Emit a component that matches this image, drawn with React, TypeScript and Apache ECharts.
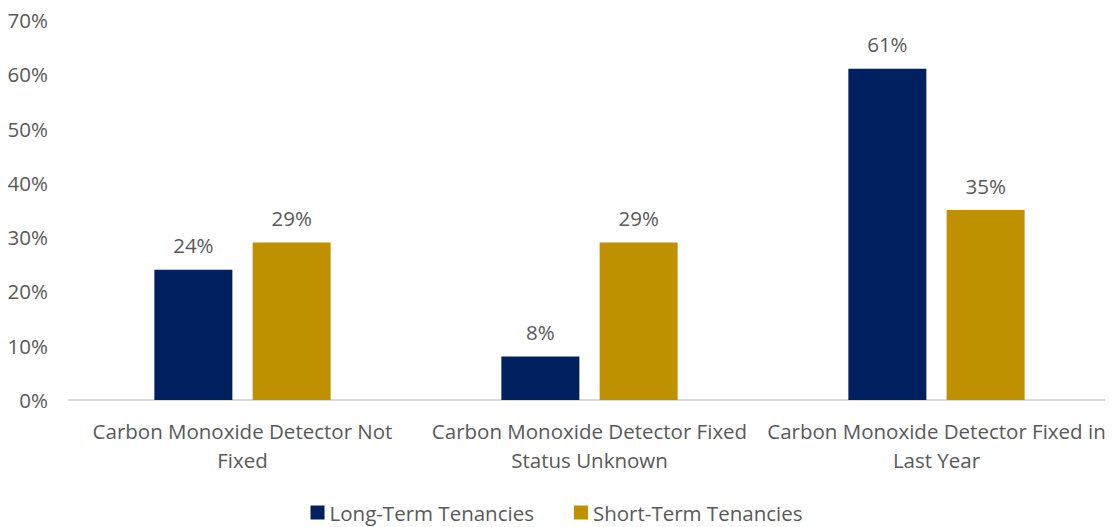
import React, { useEffect, useRef } from "react";
import * as echarts from "echarts";

const categories = [
  "Carbon Monoxide Detector Not\nFixed",
  "Carbon Monoxide Detector Fixed\nStatus Unknown",
  "Carbon Monoxide Detector Fixed in\nLast Year",
];
const longTerm = [24, 8, 61];
const shortTerm = [29, 29, 35];
const seriesNames = ["Long-Term Tenancies", "Short-Term Tenancies"];
const yTicks = { min: 0, max: 70, interval: 10 };

const FONT = "'Open Sans', sans-serif";
const TEXT = "#595959";
const FS = 20.5;

export default function App() {
  const ref = useRef<HTMLDivElement>(null);
  useEffect(() => {
    const chart = echarts.init(ref.current!, null, { renderer: "svg" });
    const valueLabel = {
      show: true,
      position: "top",
      distance: 14,
      formatter: "{c}%",
      fontFamily: FONT,
      fontSize: FS,
      color: TEXT,
    };
    chart.setOption({
      animation: false,
      textStyle: { fontFamily: FONT },
      grid: { left: 69, right: 3, top: 20, bottom: 127, containLabel: false },
      legend: {
        bottom: -1,
        left: "center",
        itemWidth: 14,
        itemHeight: 14,
        itemGap: 40,
        icon: "rect",
        textStyle: { fontFamily: FONT, fontSize: FS, color: TEXT },
        data: seriesNames,
      },
      xAxis: {
        type: "category",
        data: categories,
        axisLine: { lineStyle: { color: "#d9d9d9", width: 2 } },
        axisTick: { show: false },
        axisLabel: {
          interval: 0,
          fontFamily: FONT,
          fontSize: FS,
          color: TEXT,
          lineHeight: 29,
          margin: 16,
        },
      },
      yAxis: {
        type: "value",
        min: yTicks.min,
        max: yTicks.max,
        interval: yTicks.interval,
        axisLine: { show: false },
        axisTick: { show: false },
        splitLine: { show: false },
        axisLabel: {
          formatter: "{value}%",
          fontFamily: FONT,
          fontSize: FS,
          color: TEXT,
          margin: 21,
        },
      },
      series: [
        {
          name: seriesNames[0],
          type: "bar",
          data: longTerm,
          barWidth: 78,
          barGap: "26%",
          itemStyle: { color: "#002060" },
          label: valueLabel,
        },
        {
          name: seriesNames[1],
          type: "bar",
          data: shortTerm,
          barWidth: 78,
          itemStyle: { color: "#BF9000" },
          label: valueLabel,
        },
      ],
    });
    return () => chart.dispose();
  }, []);
  return <div ref={ref} style={{ width: 1113, height: 527, marginLeft: -8, marginTop: -8 }} />;
}
